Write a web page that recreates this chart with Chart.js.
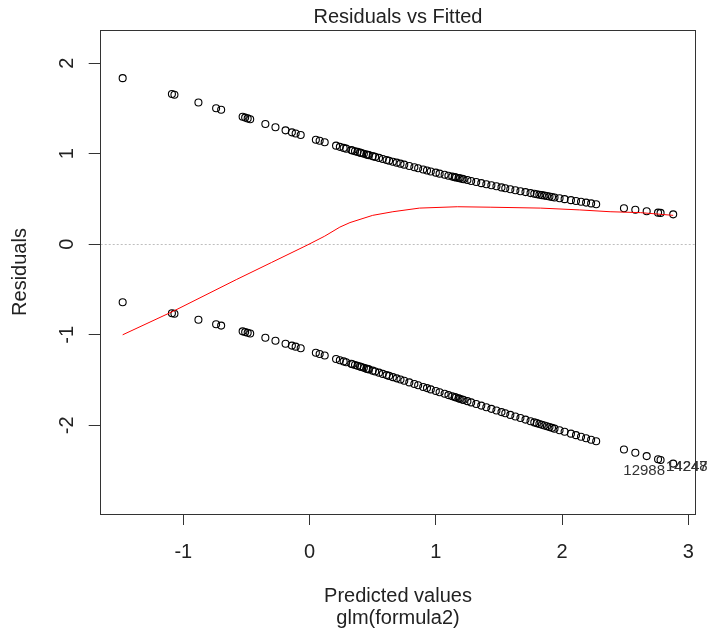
<!DOCTYPE html>
<html>
<head>
<meta charset="utf-8">
<script src="https://cdn.jsdelivr.net/npm/chart.js@4.4.0/dist/chart.umd.min.js"></script>
<style>
  html, body { margin: 0; padding: 0; background: #fff; }
  #wrap { width: 712px; height: 634px; }
</style>
</head>
<body>
<div id="wrap"><canvas id="plot" width="712" height="634"></canvas></div>
<script>
// fitted values (linear predictor)
const fitted = [-1.48, -1.09, -1.07, -0.88, -0.74, -0.70, -0.53, -0.51, -0.49, -0.47,
  -0.35, -0.27, -0.19, -0.14, -0.11, -0.07, 0.05, 0.08, 0.12,
  0.21, 0.24, 0.27, 0.29, 0.33, 0.34, 0.36, 0.38, 0.40, 0.41, 0.43, 0.45, 0.46,
  0.47, 0.50, 0.52, 0.55, 0.58, 0.61, 0.63, 0.66, 0.69, 0.72,
  0.75, 0.79, 0.83, 0.86, 0.90, 0.93, 0.96, 1.00, 1.03, 1.07,
  1.10, 1.13, 1.15, 1.16, 1.18, 1.19, 1.21, 1.22, 1.25, 1.28, 1.32, 1.36, 1.40,
  1.44, 1.48, 1.52, 1.55, 1.59, 1.63, 1.67, 1.71, 1.75, 1.78,
  1.80, 1.82, 1.84, 1.86, 1.88, 1.90, 1.92, 1.94, 1.98, 2.02, 2.07, 2.11, 2.15, 2.19,
  2.23, 2.27, 2.49, 2.58, 2.67, 2.76, 2.78, 2.88];

// residuals, upper band
const residUpper = [1.836, 1.661, 1.652, 1.567, 1.503, 1.486, 1.409, 1.400, 1.391, 1.382,
  1.329, 1.294, 1.259, 1.237, 1.224, 1.207, 1.156, 1.144, 1.127,
  1.090, 1.077, 1.065, 1.057, 1.041, 1.037, 1.029, 1.021, 1.013, 1.009, 1.001, 0.993, 0.989,
  0.985, 0.974, 0.966, 0.955, 0.943, 0.932, 0.924, 0.913, 0.902, 0.891,
  0.880, 0.865, 0.851, 0.840, 0.826, 0.816, 0.805, 0.792, 0.781, 0.768,
  0.758, 0.748, 0.742, 0.739, 0.732, 0.729, 0.723, 0.719, 0.710, 0.700, 0.688, 0.676, 0.664,
  0.652, 0.641, 0.629, 0.620, 0.609, 0.598, 0.587, 0.577, 0.566, 0.558,
  0.553, 0.548, 0.543, 0.538, 0.533, 0.528, 0.523, 0.518, 0.509, 0.499, 0.488, 0.478, 0.470, 0.461,
  0.452, 0.443, 0.399, 0.382, 0.366, 0.350, 0.347, 0.331];

// residuals, lower band
const residLower = [-0.641, -0.761, -0.768, -0.833, -0.883, -0.898, -0.962, -0.970, -0.978, -0.985,
  -1.033, -1.065, -1.098, -1.119, -1.131, -1.148, -1.199, -1.212, -1.229,
  -1.268, -1.281, -1.294, -1.303, -1.320, -1.325, -1.334, -1.343, -1.351, -1.356, -1.365, -1.374, -1.378,
  -1.382, -1.396, -1.405, -1.418, -1.432, -1.445, -1.454, -1.468, -1.481, -1.494,
  -1.508, -1.526, -1.544, -1.558, -1.576, -1.589, -1.603, -1.621, -1.634, -1.652,
  -1.666, -1.679, -1.688, -1.693, -1.702, -1.706, -1.715, -1.720, -1.733, -1.747, -1.765, -1.782, -1.800,
  -1.818, -1.836, -1.854, -1.867, -1.885, -1.902, -1.920, -1.937, -1.955, -1.968,
  -1.976, -1.985, -1.994, -2.002, -2.011, -2.020, -2.028, -2.037, -2.054, -2.071, -2.092, -2.109, -2.126, -2.143,
  -2.160, -2.176, -2.267, -2.304, -2.340, -2.375, -2.383, -2.423];

// red smoother
const smoothX = [-1.48, -1.08, -0.58, -0.30, -0.02, 0.12, 0.24, 0.32, 0.50, 0.66, 0.87, 1.17, 1.43, 1.83, 2.14, 2.38, 2.62, 2.88];
const smoothY = [-1.00, -0.74, -0.39, -0.20, -0.01, 0.09, 0.19, 0.24, 0.32, 0.36, 0.40, 0.415, 0.41, 0.40, 0.38, 0.36, 0.35, 0.32];

const xTicks = [-1, 0, 1, 2, 3];
const yTicks = [-2, -1, 0, 1, 2];

// labelled observations
const idLabels = ['12988', '14247', '14248'];
const idX = [2.815, 2.823, 2.823];
const idY = [-2.50, -2.455, -2.455];
const idAlign = ['right', 'left', 'left'];

const FONT = "'Liberation Sans', Arial, sans-serif";
Chart.defaults.font.family = FONT;
Chart.defaults.color = '#222';

const rPlot = {
  id: 'rPlot',
  beforeDatasetsDraw(chart) {
    const {ctx, chartArea: a, scales: {y}} = chart;
    const y0 = Math.round(y.getPixelForValue(0)) + 0.5;
    ctx.save();
    ctx.strokeStyle = '#bebebe';
    ctx.lineWidth = 1;
    ctx.setLineDash([2, 2]);
    ctx.beginPath();
    ctx.moveTo(a.left, y0);
    ctx.lineTo(a.right, y0);
    ctx.stroke();
    ctx.restore();
  },
  afterDraw(chart) {
    const {ctx, chartArea: a, scales: {x, y}} = chart;
    ctx.save();
    // box
    ctx.strokeStyle = '#333';
    ctx.lineWidth = 1;
    const l = Math.floor(a.left) + 0.5, t = Math.floor(a.top) + 0.5;
    const r = Math.floor(a.right) + 0.5, b = Math.floor(a.bottom) + 0.5;
    ctx.strokeRect(l, t, r - l, b - t);

    // y tick labels, rotated like R
    ctx.fillStyle = '#222';
    ctx.font = '20px ' + FONT;
    ctx.textAlign = 'center';
    ctx.textBaseline = 'middle';
    y.ticks.forEach(tk => {
      const py = y.getPixelForValue(tk.value);
      ctx.save();
      ctx.translate(67, py);
      ctx.rotate(-Math.PI / 2);
      ctx.fillText(String(tk.value), 0, 0);
      ctx.restore();
    });

    // id labels
    ctx.font = '15px ' + FONT;
    ctx.fillStyle = '#333';
    idLabels.forEach((s, i) => {
      ctx.textAlign = idAlign[i];
      ctx.fillText(s, x.getPixelForValue(idX[i]), y.getPixelForValue(idY[i]));
    });
    ctx.restore();
  }
};

new Chart(document.getElementById('plot'), {
  type: 'scatter',
  data: {
    datasets: [
      {
        data: smoothX.map((v, i) => ({x: v, y: smoothY[i]})),
        showLine: true,
        borderColor: '#ff0000',
        borderWidth: 1,
        pointRadius: 0,
        tension: 0,
        fill: false
      },
      {
        data: fitted.map((v, i) => ({x: v, y: residUpper[i]})),
        pointRadius: 3.5,
        borderWidth: 1.1,
        borderColor: '#000',
        backgroundColor: 'rgba(0,0,0,0)'
      },
      {
        data: fitted.map((v, i) => ({x: v, y: residLower[i]})),
        pointRadius: 3.5,
        borderWidth: 1.1,
        borderColor: '#000',
        backgroundColor: 'rgba(0,0,0,0)'
      }
    ]
  },
  options: {
    responsive: false,
    animation: false,
    events: [],
    layout: { padding: { top: 0, right: 16.7, bottom: 0, left: 0 } },
    plugins: {
      legend: { display: false },
      tooltip: { enabled: false },
      title: {
        display: true,
        text: 'Residuals vs Fitted',
        fullSize: false,
        color: '#222',
        font: { size: 20, weight: 'normal', lineHeight: 1.2 },
        padding: { top: 5, bottom: 1 }
      }
    },
    scales: {
      x: {
        type: 'linear',
        min: -1.654,
        max: 3.055,
        afterBuildTicks: s => { s.ticks = xTicks.map(v => ({value: v})); },
        afterFit: s => { s.height = 120; },
        grid: { drawOnChartArea: false, drawTicks: true, tickLength: 11, color: '#333' },
        border: { display: false },
        ticks: { font: { size: 20 }, color: '#222', padding: 15, maxRotation: 0, autoSkip: false },
        title: {
          display: true,
          text: ['Predicted values', 'glm(formula2)'],
          color: '#222',
          font: { size: 20, lineHeight: 1.1 },
          padding: { top: 0, bottom: 5 }
        }
      },
      y: {
        type: 'linear',
        min: -2.98,
        max: 2.368,
        afterBuildTicks: s => { s.ticks = yTicks.map(v => ({value: v})); },
        afterFit: s => { s.width = 100.7; },
        grid: { drawOnChartArea: false, drawTicks: true, tickLength: 12, color: '#333' },
        border: { display: false },
        ticks: { display: false },
        title: {
          display: true,
          text: 'Residuals',
          color: '#222',
          font: { size: 20, lineHeight: 1.2 },
          padding: { top: 8, bottom: 0 }
        }
      }
    }
  },
  plugins: [rPlot]
});
</script>
</body>
</html>
